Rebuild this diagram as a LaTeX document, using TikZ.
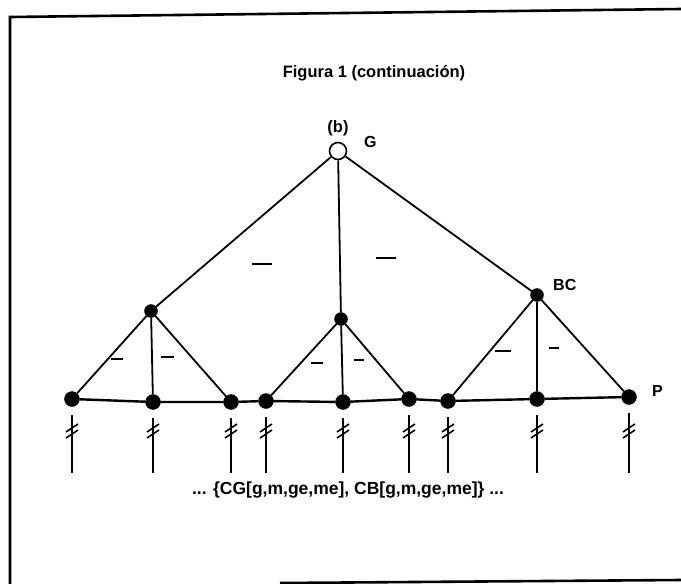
\documentclass[tikz,border=0pt]{standalone}
\usepackage{fontspec}
\setmainfont{Liberation Sans}
\usetikzlibrary{calc}
\begin{document}
\begin{tikzpicture}[x=1pt,y=-1pt,
  dot/.style={circle,fill=black,draw=black,inner sep=0pt,minimum size=15pt},
  topdot/.style={circle,fill=white,draw=black,line width=1.6pt,inner sep=0pt,minimum size=17pt},
  edge/.style={line width=1.8pt},
  base/.style={line width=2.4pt},
  stub/.style={line width=1.6pt},
  slash/.style={line width=1.6pt},
  lbl/.style={font=\bfseries\fontsize{16}{18}\selectfont,inner sep=0pt},
  txt/.style={font=\bfseries\fontsize{16.5}{19}\selectfont,inner sep=0pt},
  dashlbl/.style={inner sep=0pt},
  frame/.style={line width=2.6pt}]
\useasboundingbox (0,0) rectangle (681,584);
% frame
\draw[frame] (10,584) -- (10,17) -- (681,9);
\draw[frame] (280,583) -- (681,580);
% texts
\node[txt] (title) at (374,73) {Figura 1 (continuación)};
\node[txt] (sub) at (338,128) {(b)};
% nodes
\node[topdot] (G) at (338,151) {};
\node[lbl,anchor=west] (Glab) at (364,142) {G};
\node[dot,minimum size=13pt] (L1) at (151,311) {};
\node[dot,minimum size=13pt] (M1) at (341,319) {};
\node[dot,minimum size=13pt] (BC) at (537,295) {};
\node[lbl,anchor=west] (BClab) at (553,285) {BC};
\node[dot] (b1) at (72,399) {};
\node[dot] (b2) at (153,402) {};
\node[dot] (b3) at (231,402) {};
\node[dot] (b4) at (266,401) {};
\node[dot] (b5) at (343,402) {};
\node[dot] (b6) at (409,399) {};
\node[dot] (b7) at (448,401) {};
\node[dot] (b8) at (537,399) {};
\node[dot] (b9) at (629,397) {};
\node[lbl,anchor=west] (Plab) at (652,391) {P};
% edges
\draw[edge] (G) -- (L1);
\draw[edge] (G) -- (M1);
\draw[edge] (G) -- (BC);
\draw[edge] (L1) -- (b1);
\draw[edge] (L1) -- (b2);
\draw[edge] (L1) -- (b3);
\draw[edge] (M1) -- (b4);
\draw[edge] (M1) -- (b5);
\draw[edge] (M1) -- (b6);
\draw[edge] (BC) -- (b7);
\draw[edge] (BC) -- (b8);
\draw[edge] (BC) -- (b9);
\draw[base] (b1) -- (b2) -- (b3) -- (b4) -- (b5) -- (b6) -- (b7) -- (b8) -- (b9);
% edge labels (dashes)
\node[dashlbl] (d1) at (262,264) {\rule{20pt}{2pt}};
\node[dashlbl] (d2) at (386,258) {\rule{20pt}{2pt}};
\node[dashlbl] (d3) at (117,359) {\rule{12pt}{2.4pt}};
\node[dashlbl] (d4) at (167,357) {\rule{13pt}{2.4pt}};
\node[dashlbl] (d5) at (317,363) {\rule{12pt}{2.4pt}};
\node[dashlbl] (d6) at (359,360) {\rule{10pt}{2.4pt}};
\node[dashlbl] (d7) at (503,351) {\rule{16pt}{2pt}};
\node[dashlbl] (d8) at (554,348) {\rule{10pt}{2pt}};
% stubs with double slashes
\foreach \i/\x in {1/72,2/153,3/231,4/266,5/343,6/409,7/448,8/537,9/629}{
  \coordinate (s\i) at (\x,473);
  \draw[stub] (b\i) ++(0,16) -- (s\i);
  \draw[slash] (\x-6,432) -- (\x+6,424);
  \draw[slash] (\x-6,438) -- (\x+6,430);
}
% bottom text
\node[txt,font=\bfseries\fontsize{17.5}{20}\selectfont] (bot) at (348,490) {... \{CG[g,m,ge,me], CB[g,m,ge,me]\} ...};
\end{tikzpicture}
\end{document}
